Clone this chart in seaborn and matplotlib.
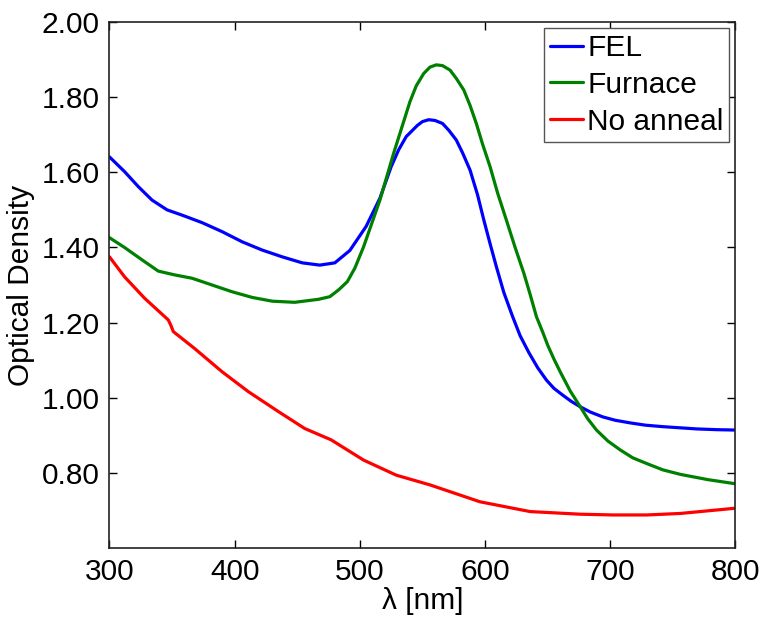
import matplotlib
matplotlib.use("Agg")
import matplotlib.pyplot as plt
import seaborn as sns
import pandas as pd

# ---- data ----
fel_wl = [300, 312, 323, 334, 346, 358, 374, 390, 406, 422, 438, 454, 468, 480, 492,
          505, 516, 525, 531, 537, 546, 550, 555, 560, 566, 571, 577, 582, 588, 594,
          599, 604, 609, 615, 622, 628, 635, 642, 649, 655, 662, 669, 676, 684, 694,
          704, 716, 728, 742, 769, 785, 800]
fel_od = [1.641, 1.602, 1.562, 1.526, 1.500, 1.486, 1.466, 1.442, 1.415, 1.393, 1.375,
          1.359, 1.353, 1.359, 1.392, 1.456, 1.531, 1.615, 1.660, 1.695, 1.725, 1.735,
          1.740, 1.738, 1.730, 1.712, 1.686, 1.652, 1.606, 1.540, 1.473, 1.410, 1.349,
          1.280, 1.216, 1.165, 1.120, 1.080, 1.047, 1.025, 1.007, 0.990, 0.976, 0.962,
          0.949, 0.940, 0.933, 0.927, 0.923, 0.917, 0.915, 0.914]

furnace_wl = [300, 312, 326, 339, 352, 366, 382, 398, 414, 430, 448, 467, 476, 483, 490,
              496, 503, 516, 527, 540, 545, 551, 556, 561, 566, 572, 577, 583, 588, 593,
              598, 604, 610, 617, 624, 631, 636, 641, 646, 650, 655, 660, 668, 676, 682,
              689, 698, 708, 718, 729, 742, 756, 778, 800]
furnace_od = [1.426, 1.400, 1.367, 1.337, 1.327, 1.318, 1.300, 1.282, 1.267, 1.257, 1.254,
              1.262, 1.269, 1.287, 1.309, 1.345, 1.402, 1.526, 1.651, 1.788, 1.830, 1.863,
              1.880, 1.886, 1.884, 1.872, 1.850, 1.819, 1.778, 1.730, 1.675, 1.615, 1.545,
              1.473, 1.400, 1.331, 1.275, 1.216, 1.175, 1.140, 1.103, 1.069, 1.018, 0.976,
              0.944, 0.914, 0.885, 0.861, 0.840, 0.825, 0.808, 0.796, 0.782, 0.771]

noanneal_wl = [300, 312, 328, 347, 349, 351, 368, 390, 411, 435, 456, 477, 503, 529, 556,
               596, 636, 676, 702, 729, 756, 800]
noanneal_od = [1.375, 1.322, 1.265, 1.207, 1.193, 1.176, 1.131, 1.069, 1.016, 0.963, 0.918,
               0.888, 0.834, 0.794, 0.768, 0.723, 0.697, 0.690, 0.688, 0.688, 0.692, 0.706]

series_names = ["FEL", "Furnace", "No anneal"]
series_colors = ["#0000ff", "#008000", "#ff0000"]
x_ticks = [300, 400, 500, 600, 700, 800]
y_ticks = [0.8, 1.0, 1.2, 1.4, 1.6, 1.8, 2.0]
y_tick_labels = ["0.80", "1.00", "1.20", "1.40", "1.60", "1.80", "2.00"]

df = pd.concat([
    pd.DataFrame({"wl": fel_wl, "od": fel_od, "sample": "FEL"}),
    pd.DataFrame({"wl": furnace_wl, "od": furnace_od, "sample": "Furnace"}),
    pd.DataFrame({"wl": noanneal_wl, "od": noanneal_od, "sample": "No anneal"}),
], ignore_index=True)

sns.set_style("ticks")
plt.rcParams["font.family"] = ["Liberation Sans", "DejaVu Sans"]
plt.rcParams["text.color"] = "black"
plt.rcParams["axes.labelcolor"] = "black"
plt.rcParams["xtick.color"] = "black"
plt.rcParams["ytick.color"] = "black"

FS = 21.5

fig = plt.figure(figsize=(7.65, 6.17), dpi=100)
ax = fig.add_axes([0.1431, 0.1118, 0.9614 - 0.1431, 0.9643 - 0.1118])

sns.lineplot(data=df, x="wl", y="od", hue="sample", hue_order=series_names,
             palette=dict(zip(series_names, series_colors)), estimator=None,
             sort=False, linewidth=2.3, ax=ax)

ax.set_xlim(300, 800)
ax.set_ylim(0.6, 2.0)
ax.set_xticks(x_ticks)
ax.set_yticks(y_ticks)
ax.set_yticklabels(y_tick_labels)
ax.tick_params(direction="in", length=6, width=1.0, top=True, right=True,
               labelsize=FS, pad=7, colors="black", labelcolor="black")
for s in ax.spines.values():
    s.set_visible(True)
    s.set_linewidth(1.2)
    s.set_color("#222222")

ax.set_xlabel("λ [nm]", fontsize=FS, labelpad=1, color="black")
ax.set_ylabel("Optical Density", fontsize=FS, labelpad=5, color="black")

leg = ax.legend(loc="upper right", fontsize=FS, frameon=True, fancybox=False,
                borderaxespad=0.2, handlelength=1.1, handletextpad=0.15,
                labelspacing=0.3, borderpad=0.2)
leg.get_frame().set_edgecolor("#555555")
leg.get_frame().set_linewidth(1.0)
leg.get_frame().set_alpha(1)
for line in leg.get_lines():
    line.set_linewidth(2.3)
for t in leg.get_texts():
    t.set_color("black")

fig.savefig("out.png", dpi=100)
